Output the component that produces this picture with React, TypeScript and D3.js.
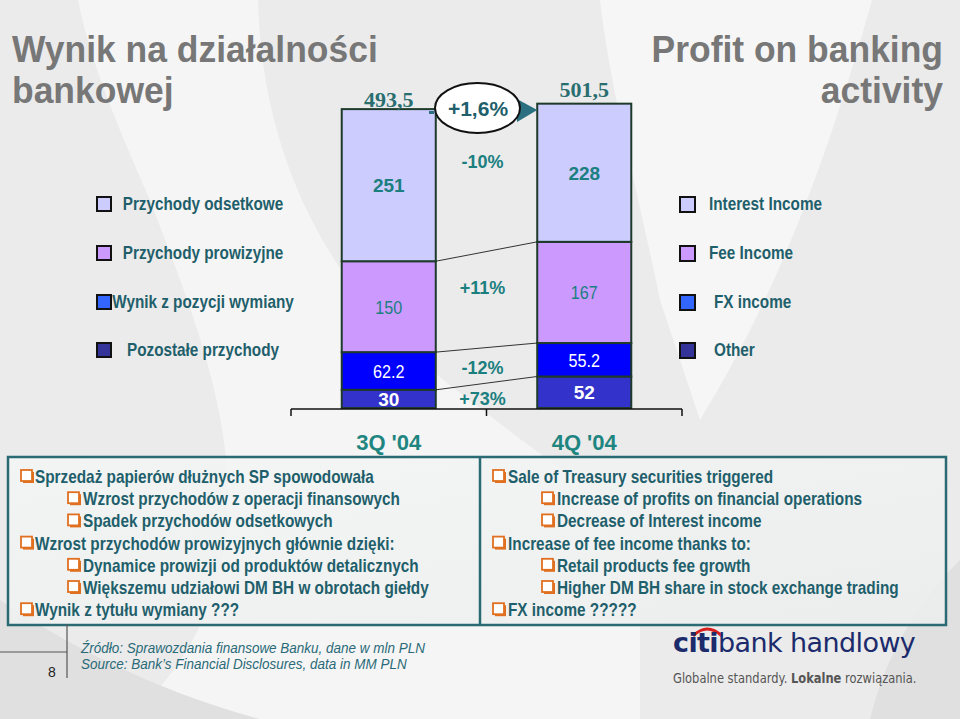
import React from "react";
import * as d3 from "d3";

const quarters = ["3Q '04", "4Q '04"];
const seriesPl = ["Przychody odsetkowe", "Przychody prowizyjne", "Wynik z pozycji wymiany", "Pozostałe przychody"];
const seriesEn = ["Interest Income", "Fee Income", "FX income", "Other"];
const interest = [251, 228];
const fee = [150, 167];
const fx = [62.2, 55.2];
const other = [30, 52];
const valueLabels = [["251", "228"], ["150", "167"], ["62.2", "55.2"], ["30", "52"]];
const totals = ["493,5", "501,5"];
const changes = ["-10%", "+11%", "-12%", "+73%"];
const totalChange = "+1,6%";

const notesPl: [number, string][] = [
  [1, "Sprzedaż papierów dłużnych SP spowodowała"],
  [2, "Wzrost przychodów z operacji finansowych"],
  [2, "Spadek przychodów odsetkowych"],
  [1, "Wzrost przychodów prowizyjnych głównie dzięki:"],
  [2, "Dynamice prowizji od produktów detalicznych"],
  [2, "Większemu udziałowi DM BH w obrotach giełdy"],
  [1, "Wynik z tytułu wymiany ???"],
];
const notesEn: [number, string][] = [
  [1, "Sale of Treasury securities triggered"],
  [2, "Increase of profits on financial operations"],
  [2, "Decrease of Interest income"],
  [1, "Increase of fee income thanks to:"],
  [2, "Retail products fee growth"],
  [2, "Higher DM BH share in stock exchange trading"],
  [1, "FX income ?????"],
];

const W = 960, H = 719;
const SANS = "'Liberation Sans', Arial, Helvetica, sans-serif";
const TEAL = "#1f5f6b";
const TEAL2 = "#1b7f80";
const barColors = ["#ccccff", "#cc99ff", "#0000ff", "#3333cc"];
const legendColors = ["#ccccff", "#cc99ff", "#3366ff", "#333399"];
const labelColors = [TEAL2, TEAL2, "#ffffff", "#ffffff"];
const labelWeights = ["bold", "normal", "normal", "bold"];
const changeNudge = [-17, -12, 3, 3];
const totalNudge = [-2, -7];

function NText(props: any) {
  const { x, y, sx = 0.85, children, ...rest } = props;
  return (
    <text transform={`translate(${x},${y}) scale(${sx},1)`} {...rest}>
      {children}
    </text>
  );
}

export default function App() {
  const series = [interest, fee, fx, other];
  const stackData = quarters.map((q, i) => {
    const o: any = { q };
    series.forEach((s, k) => (o["s" + k] = s[i]));
    return o;
  });
  const keys = series.map((_, k) => "s" + k);

  const x = d3.scaleBand().domain(quarters).range([291, 682]).paddingInner(0.519).paddingOuter(0.2595);
  const y = d3.scaleLinear().domain([0, 520]).range([408, 408 - 520 * 0.606]);
  const bw = x.bandwidth();
  const axisY = 409;

  // interest on top -> stack in reverse key order
  const stackedRev = d3.stack().keys([...keys].reverse())(stackData as any);
  const segOf = (k: number, i: number) => {
    const layer = stackedRev.find((l) => l.key === "s" + k)!;
    return layer[i];
  };

  const legendRowsY = [204, 253, 302, 350];
  const noteRowsY = d3.range(7).map((i) => 483 + i * 22.2);

  const bullet = (bx: number, by: number, key: string) => (
    <g key={key}>
      <rect x={bx + 2} y={by - 11} width={11} height={11} fill="#e07020" />
      <rect x={bx} y={by - 13} width={11} height={11} fill="#ffffff" stroke="#e07020" strokeWidth={1.8} />
    </g>
  );

  const x0 = x(quarters[0])!;
  const x1 = x(quarters[1])!;

  return (
    <svg width={W} height={H} style={{ position: "absolute", left: 0, top: 0 }}>
      <defs>
        <linearGradient id="boxg" x1="0" y1="0" x2="1" y2="1">
          <stop offset="0" stopColor="#f4f6f6" />
          <stop offset="1" stopColor="#eceeee" />
        </linearGradient>
      </defs>
      <rect x={0} y={0} width={W} height={H} fill="#ebebeb" />
      <path d="M78,0 L258,0 C262,160 330,300 470,400 C520,440 560,470 640,520 L640,719 L130,719 C300,560 210,360 150,200 C115,120 90,60 78,0 Z" fill="#f7f7f7" opacity={0.85} />
      <path d="M600,0 L872,0 C830,150 780,290 700,420 L660,300 C640,200 610,90 600,0 Z" fill="#f8f8f8" opacity={0.85} />
      <path d="M0,600 C60,640 150,690 260,719 L0,719 Z" fill="#e0e0e0" />
      <path d="M960,560 C900,620 880,680 870,719 L960,719 Z" fill="#e0e0e0" />

      {/* Titles */}
      <NText x={12} y={62} sx={0.985} fontFamily={SANS} fontWeight="bold" fontSize={36} fill="#777777">Wynik na działalności</NText>
      <NText x={12} y={103} sx={0.985} fontFamily={SANS} fontWeight="bold" fontSize={36} fill="#777777">bankowej</NText>
      <NText x={943} y={62} sx={0.985} textAnchor="end" fontFamily={SANS} fontWeight="bold" fontSize={36} fill="#777777">Profit on banking</NText>
      <NText x={943} y={103} sx={0.985} textAnchor="end" fontFamily={SANS} fontWeight="bold" fontSize={36} fill="#777777">activity</NText>

      {/* Legends */}
      {seriesPl.map((s, k) => (
        <g key={"lp" + k}>
          <rect x={97} y={legendRowsY[k] - 7} width={14} height={14} fill={legendColors[k]} stroke="#111" strokeWidth={2} />
          <NText x={203} y={legendRowsY[k] + 6} textAnchor="middle" fontFamily={SANS} fontSize={18} fontWeight="bold" fill={TEAL}>{s}</NText>
        </g>
      ))}
      {seriesEn.map((s, k) => (
        <g key={"le" + k}>
          <rect x={680} y={legendRowsY[k] - 7} width={15} height={15} fill={legendColors[k]} stroke="#111" strokeWidth={2} />
          <NText x={k < 2 ? 709 : 714} y={legendRowsY[k] + 6} fontFamily={SANS} fontSize={18} fontWeight="bold" fill={TEAL}>{s}</NText>
        </g>
      ))}

      {/* Connector lines */}
      {[1, 2, 3].map((k) => {
        const a = segOf(k, 0), b = segOf(k, 1);
        return <line key={"c" + k} x1={x0 + bw} y1={y(a[1])} x2={x1} y2={y(b[1])} stroke="#333" strokeWidth={1} />;
      })}

      {/* Bars */}
      {quarters.map((q, i) => (
        <g key={q}>
          {[3, 2, 1, 0].map((k) => {
            const d = segOf(k, i);
            return (
              <rect key={k} x={x(q)!} y={y(d[1])} width={bw} height={y(d[0]) - y(d[1])} fill={barColors[k]} stroke="#1d3a2a" strokeWidth={2} />
            );
          })}
          {[0, 1, 2, 3].map((k) => {
            const d = segOf(k, i);
            const cy = (y(d[0]) + y(d[1])) / 2;
            return (
              <NText key={"t" + k} x={x(q)! + bw / 2} y={cy + 7} sx={labelWeights[k] === "bold" ? 1 : 0.85} textAnchor="middle" fontFamily={SANS} fontSize={19} fontWeight={labelWeights[k]} fill={labelColors[k]}>
                {valueLabels[k][i]}
              </NText>
            );
          })}
          <text x={x(q)! + bw / 2} y={y(segOf(0, i)[1]) + totalNudge[i]} textAnchor="middle" fontFamily="'Liberation Serif', 'Times New Roman', serif" fontWeight="bold" fontSize={22} fill="#2a6e70">
            {totals[i]}
          </text>
        </g>
      ))}

      {/* Change labels */}
      {changes.map((c, k) => {
        const a = segOf(k, 0), b = segOf(k, 1);
        const cy = ((y(a[0]) + y(a[1])) / 2 + (y(b[0]) + y(b[1])) / 2) / 2 + changeNudge[k];
        return (
          <text key={"ch" + k} x={(x0 + bw + x1) / 2 - 4} y={cy + 6} textAnchor="middle" fontFamily={SANS} fontSize={18} fontWeight="bold" fill={TEAL2}>
            {c}
          </text>
        );
      })}

      {/* Total change ellipse and arrow */}
      <rect x={429} y={111} width={5} height={3} fill="#2a7080" />
      <path d={`M517,99 L${x1},110 L517,122 Z`} fill="#2a7080" />
      <ellipse cx={477.5} cy={108} rx={42.5} ry={25} fill="#ffffff" stroke="#111" strokeWidth={2} />
      <text x={478} y={116} textAnchor="middle" fontFamily={SANS} fontSize={21} fontWeight="bold" fill={TEAL}>{totalChange}</text>

      {/* Axis */}
      <line x1={291} y1={axisY} x2={682} y2={axisY} stroke="#111" strokeWidth={1.5} />
      {[291, 291 + x.step(), 682].map((tx, i) => (
        <line key={"tk" + i} x1={tx} y1={axisY} x2={tx} y2={axisY + 7} stroke="#111" strokeWidth={1.5} />
      ))}
      {quarters.map((q) => (
        <text key={"q" + q} x={x(q)! + bw / 2} y={450} textAnchor="middle" fontFamily={SANS} fontSize={22} fontWeight="bold" fill="#1f8580">{q}</text>
      ))}

      {/* Notes boxes */}
      <rect x={8} y={457} width={938} height={168} fill="url(#boxg)" opacity={0.85} />
      <rect x={8} y={457} width={938} height={168} fill="none" stroke="#2a6a72" strokeWidth={2.5} />
      <line x1={480} y1={457} x2={480} y2={625} stroke="#2a6a72" strokeWidth={2.5} />
      {notesPl.map(([lv, t], i) => (
        <g key={"np" + i}>
          {bullet(lv === 1 ? 21 : 68, noteRowsY[i], "bp" + i)}
          <NText x={lv === 1 ? 35 : 83} y={noteRowsY[i]} sx={0.852} fontFamily={SANS} fontSize={18} fontWeight="bold" fill={TEAL}>{t}</NText>
        </g>
      ))}
      {notesEn.map(([lv, t], i) => (
        <g key={"ne" + i}>
          {bullet(lv === 1 ? 493 : 542, noteRowsY[i], "be" + i)}
          <NText x={lv === 1 ? 508 : 557} y={noteRowsY[i]} sx={0.852} fontFamily={SANS} fontSize={18} fontWeight="bold" fill={TEAL}>{t}</NText>
        </g>
      ))}

      {/* Footer */}
      <line x1={67} y1={624} x2={67} y2={678} stroke="#555" strokeWidth={1.2} />
      <line x1={0} y1={652} x2={67} y2={652} stroke="#555" strokeWidth={1.2} />
      <text x={52} y={677} textAnchor="middle" fontFamily={SANS} fontSize={14} fill="#222">8</text>
      <NText x={81} y={653} sx={0.93} fontFamily={SANS} fontStyle="italic" fontSize={14.5} fill="#2a6a78">Źródło: Sprawozdania finansowe Banku, dane w mln PLN</NText>
      <NText x={81} y={669} sx={0.93} fontFamily={SANS} fontStyle="italic" fontSize={14.5} fill="#2a6a78">Source: Bank’s Financial Disclosures, data in MM PLN</NText>

      {/* Logo */}
      <path d="M693,636 Q707,622 722,636" fill="none" stroke="#d62020" strokeWidth={3} />
      <text x={673} y={652} fontFamily="'DejaVu Sans', Verdana, sans-serif" fontSize={27} fill="#1b2b6b" letterSpacing={-0.6}>
        <tspan fontWeight="bold">citi</tspan>
        <tspan fontWeight="normal">bank handlowy</tspan>
      </text>
      <NText x={673} y={683} sx={0.82} fontFamily="'DejaVu Sans', Verdana, sans-serif" fontSize={14} fill="#555">
        <tspan>Globalne standardy. </tspan>
        <tspan fontWeight="bold">Lokalne</tspan>
        <tspan> rozwiązania.</tspan>
      </NText>
    </svg>
  );
}
